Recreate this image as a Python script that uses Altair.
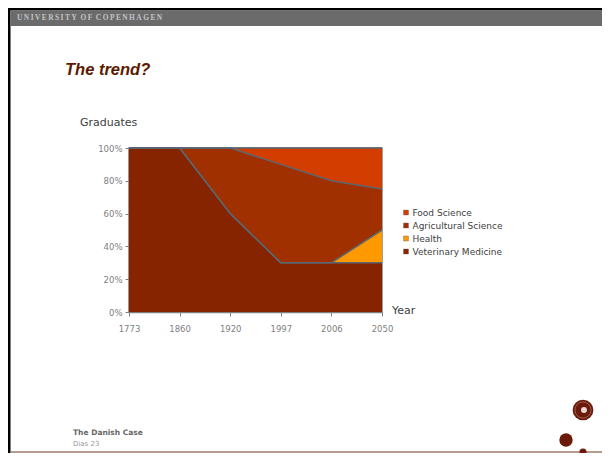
import altair as alt
import pandas as pd

# ---- data ----
years = ["1773", "1860", "1920", "1997", "2006", "2050"]
vet_medicine = [1.00, 1.00, 0.60, 0.30, 0.30, 0.30]
health = [0.00, 0.00, 0.00, 0.00, 0.00, 0.20]
agricultural = [0.00, 0.00, 0.40, 0.60, 0.50, 0.25]
food_science = [0.00, 0.00, 0.00, 0.10, 0.20, 0.25]

series_names = ["Food Science", "Agricultural Science", "Health", "Veterinary  Medicine"]
series_colors = ["#D43D00", "#A03000", "#FF9900", "#862400"]
stack_order = {"Veterinary  Medicine": 0, "Health": 1, "Agricultural Science": 2, "Food Science": 3}
y_ticks = [0, 0.2, 0.4, 0.6, 0.8, 1.0]

rows = []
for name, vals in [("Veterinary  Medicine", vet_medicine), ("Health", health),
                   ("Agricultural Science", agricultural), ("Food Science", food_science)]:
    for yr, v in zip(years, vals):
        rows.append({"Year": yr, "Series": name, "Share": v, "ord": stack_order[name]})
df = pd.DataFrame(rows)

FONT = "DejaVu Sans"

x_axis = alt.Axis(title=None, labelAngle=0, tickSize=4, labelPadding=8,
                  labelFontSize=8.5, labelColor="#808080", labelFont=FONT,
                  labelOverlap=False,
                  domainColor="#808080", tickColor="#808080", domainWidth=1.5)
y_axis = alt.Axis(title=None, values=y_ticks, format=".0%", tickSize=4,
                  labelPadding=3, labelFontSize=8.5, labelColor="#808080",
                  labelFont=FONT, grid=False, labelOverlap=False,
                  domainColor="#808080", tickColor="#808080", domainWidth=1.5)
x_scale = alt.Scale(type="point", padding=0)
y_scale = alt.Scale(domain=[0, 1], nice=False)

area = alt.Chart(df).mark_area(opacity=1).encode(
    x=alt.X("Year:O", sort=years, scale=x_scale, axis=x_axis),
    y=alt.Y("Share:Q", stack="zero", scale=y_scale, axis=y_axis),
    color=alt.Color("Series:N",
                    scale=alt.Scale(domain=series_names, range=series_colors),
                    legend=alt.Legend(title=None, orient="none", legendX=272.5, legendY=60,
                                      symbolType="square", symbolSize=25,
                                      symbolStrokeColor="#666666", symbolStrokeWidth=0.4,
                                      labelFontSize=9, labelFont=FONT, labelColor="#404040",
                                      labelOffset=2, rowPadding=3, padding=0)),
    order=alt.Order("ord:Q"),
)

# boundary lines on top of each stacked band
lines = alt.Chart(df).transform_window(
    top="sum(Share)", groupby=["Year"], sort=[alt.SortField("ord")],
    frame=[None, 0]
).mark_line(color="#5a6670", strokeWidth=1.5).encode(
    x=alt.X("Year:O", sort=years, scale=x_scale, axis=x_axis),
    y=alt.Y("top:Q", scale=y_scale, axis=y_axis),
    detail="Series:N",
)

one = pd.DataFrame({"k": [0]})

def rect(x, x2, y, y2, color):
    return alt.Chart(one).mark_rect(color=color).encode(
        x=alt.value(x), x2=alt.value(x2), y=alt.value(y), y2=alt.value(y2))

def text(s, x, y, size, color, font=FONT, weight="normal", style="normal", align="left"):
    return alt.Chart(one).mark_text(
        text=s, fontSize=size, color=color, font=font, fontWeight=weight,
        fontStyle=style, align=align, baseline="middle").encode(
        x=alt.value(x), y=alt.value(y))

def dot(x, y, size, color):
    return alt.Chart(one).mark_point(filled=True, shape="circle", size=size,
                                     color=color, opacity=1).encode(
        x=alt.value(x), y=alt.value(y))

header_text = "\u2009".join("UNIVERSITY") + "\u2002" + "\u2009".join("OF") + "\u2002" + "\u2009".join("COPENHAGEN")

layers = [
    rect(-121, 473, -140, -137.5, "#000000"),
    rect(-121, -118.5, -140, 305, "#000000"),
    rect(-118.5, 473, -137.5, -122, "#6b6b6b"),
    text(header_text, -112, -130, 7.4, "#c4c4c4", font="Liberation Serif", weight="bold"),
    text("The trend?", -64, -78, 16.5, "#5c1a00", font="Liberation Sans", weight="bold", style="italic"),
    text("Graduates", -49, -25, 11, "#404040"),
    text("Year", 263, 163, 11, "#404040"),
    text("The Danish Case", -56, 285, 7.5, "#666666", weight="bold"),
    text("Dias 23", -56, 296, 7, "#999999"),
    area,
    lines,
    alt.Chart(one).mark_rule(color="#a07868", strokeWidth=1.5).encode(
        x=alt.value(-118.5), x2=alt.value(473), y=alt.value(304)),
    dot(454, 262, 430, "#6b1a0a"),
    alt.Chart(one).mark_point(shape="circle", size=260, color="#b98a7e",
                              strokeWidth=0.6, opacity=1).encode(
        x=alt.value(454), y=alt.value(262)),
    dot(455, 262, 35, "#e8d8d4"),
    dot(437, 292, 180, "#6b1a0a"),
    dot(454, 304, 50, "#6b1a0a"),
]

chart = alt.layer(*layers).properties(
    width=253, height=164,
    padding={"left": 121, "top": 140, "right": 220, "bottom": 141},
    autosize=alt.AutoSizeParams(type="none"),
    background="white",
).configure_view(stroke="#808080", strokeWidth=1.5)

chart.save("out.html", embed_options={"renderer": "svg", "actions": False})
